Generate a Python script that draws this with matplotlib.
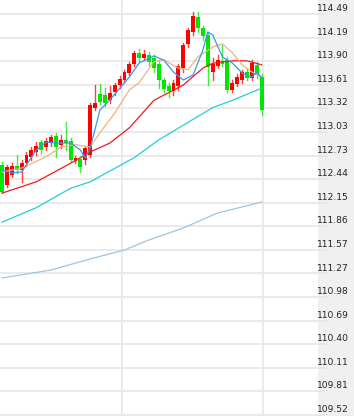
import numpy as np
import matplotlib
matplotlib.use("Agg")
import matplotlib.pyplot as plt
from matplotlib.patches import Rectangle

# candles (open, high, low, close), one per bar
opens = [112.619, 112.371, 112.495, 112.606, 112.557, 112.643, 112.718, 112.780, 112.904, 112.842,
         112.891, 112.978, 112.866, 112.928, 112.916, 112.668, 112.693, 112.680, 112.742, 113.325,
         113.498, 113.486, 113.424, 113.523, 113.610, 113.672, 113.759, 113.870, 114.007, 113.945,
         113.982, 113.945, 113.870, 113.672, 113.598, 113.536, 113.598, 113.821, 114.118, 114.267,
         114.453, 114.316, 114.230, 113.771, 113.846, 113.907, 113.920, 113.548, 113.622, 113.672,
         113.771, 113.697, 113.858, 113.709]
highs = [112.656, 112.619, 112.643, 112.742, 112.680, 112.780, 112.842, 112.904, 112.928, 112.953,
         112.990, 113.015, 112.990, 113.151, 112.953, 112.730, 112.718, 112.854, 113.387, 113.610,
         113.622, 113.573, 113.598, 113.635, 113.722, 113.796, 113.895, 114.031, 114.056, 114.044,
         114.019, 113.982, 113.920, 113.697, 113.635, 113.672, 113.870, 114.131, 114.316, 114.515,
         114.515, 114.341, 114.267, 113.945, 113.982, 114.106, 113.957, 113.672, 113.746, 113.796,
         113.821, 113.920, 113.895, 113.746]
lows = [112.271, 112.346, 112.470, 112.519, 112.408, 112.606, 112.680, 112.742, 112.767, 112.804,
        112.854, 112.718, 112.829, 112.804, 112.656, 112.643, 112.532, 112.631, 112.718, 113.300,
        113.375, 113.350, 113.387, 113.486, 113.573, 113.647, 113.734, 113.846, 113.895, 113.920,
        113.858, 113.771, 113.573, 113.523, 113.461, 113.486, 113.548, 113.771, 114.081, 114.230,
        114.267, 114.168, 113.610, 113.672, 113.821, 113.846, 113.523, 113.523, 113.598, 113.635,
        113.672, 113.672, 113.697, 113.238]
closes = [112.284, 112.594, 112.606, 112.557, 112.643, 112.742, 112.804, 112.854, 112.804, 112.916,
          112.966, 112.842, 112.928, 112.891, 112.680, 112.705, 112.594, 112.829, 113.362, 113.387,
          113.399, 113.387, 113.511, 113.610, 113.684, 113.771, 113.870, 114.007, 113.945, 113.994,
          113.895, 113.821, 113.672, 113.560, 113.536, 113.635, 113.846, 114.106, 114.292, 114.465,
          114.316, 114.217, 113.833, 113.870, 113.920, 113.870, 113.548, 113.635, 113.709, 113.771,
          113.697, 113.883, 113.734, 113.300]

# moving averages (bar index, value)
ma_blue_x = [0, 2, 4, 7, 9, 11, 14, 16, 17, 18, 20, 22, 26, 28, 31, 33, 35, 37, 39, 41, 42, 43, 45, 47, 49, 51, 52, 53]
ma_blue = [112.557, 112.52, 112.532, 112.804, 112.903, 112.891, 112.891, 112.804, 112.705, 112.829,
           113.30, 113.424, 113.709, 113.883, 113.97, 113.92, 113.771, 113.672, 113.734, 114.044,
           114.267, 114.23, 113.957, 113.883, 113.759, 113.709, 113.771, 113.697]
ma_tan_x = [0, 4, 9, 12, 15, 18, 20, 23, 26, 28, 31, 33, 36, 38, 40, 43, 45, 47, 49, 51, 53]
ma_tan = [112.53, 112.58, 112.72, 112.84, 112.87, 112.84, 113.02, 113.26, 113.55, 113.64,
          113.90, 113.92, 113.82, 113.80, 113.96, 114.08, 114.12, 114.01, 113.86, 113.77, 113.71]
ma_red_x = [0, 7, 14, 18, 22, 26, 31, 37, 41, 43, 47, 50, 53]
ma_red = [112.27, 112.41, 112.64, 112.78, 112.89, 113.08, 113.42, 113.61, 113.82, 113.88, 113.91, 113.91, 113.86]
ma_cyan_x = [0, 7, 14, 18, 27, 32, 43, 47, 53]
ma_cyan = [111.91, 112.09, 112.33, 112.41, 112.71, 112.93, 113.33, 113.42, 113.57]
ma_lblue_x = [0, 10, 18, 25, 30, 37, 44, 49, 53]
ma_lblue = [111.218, 111.317, 111.454, 111.565, 111.69, 111.838, 112.024, 112.098, 112.16]

tick_labels = ["114.49", "114.19", "113.90", "113.61", "113.32", "113.03", "112.73", "112.44", "112.15",
               "111.86", "111.57", "111.27", "110.98", "110.69", "110.40", "110.11", "109.81", "109.52"]
ticks = np.linspace(114.49, 109.52, len(tick_labels))
vlines = [24.5, 53.3]

up_col = '#ff0000'
down_col = '#00e600'
grid_col = '#e8e8e8'

fig = plt.figure(figsize=(3.54, 4.16), dpi=100)
fig.patch.set_facecolor('white')
# grey strip behind the price labels
fig.add_artist(Rectangle((318 / 354, 0), 1 - 318 / 354, 1, transform=fig.transFigure,
                         facecolor='#f0f0f0', edgecolor='none', zorder=-1))

ax = fig.add_axes([0, 0, 328 / 354, 1])
ax.patch.set_alpha(0)

for t in ticks:
    ax.axhline(t, color=grid_col, lw=1.3, zorder=0)
for v in vlines:
    ax.axvline(v, color=grid_col, lw=1.3, zorder=0)

# candlesticks
for i in range(len(opens)):
    o, h, l, c = opens[i], highs[i], lows[i], closes[i]
    col = up_col if c >= o else down_col
    ax.plot([i, i], [l, h], color=col, lw=1.0, alpha=0.75, zorder=2)
    ax.add_patch(Rectangle((i - 0.4, min(o, c)), 0.8, max(abs(c - o), 0.01),
                           facecolor=col, edgecolor='none', zorder=3))

ax.plot(ma_lblue_x, ma_lblue, color='#9cc6e2', lw=0.9, zorder=4)
ax.plot(ma_cyan_x, ma_cyan, color='#22cfd6', lw=0.9, zorder=4)
ax.plot(ma_red_x, ma_red, color='#ee1c1c', lw=0.9, zorder=4)
ax.plot(ma_tan_x, ma_tan, color='#f0b283', lw=0.9, zorder=4)
ax.plot(ma_blue_x, ma_blue, color='#3a96f0', lw=0.9, zorder=5)

ax.set_xlim(-2 / 4.9, (328 - 2) / 4.9)
ax.set_ylim(109.5076, 114.6635)
ax.set_xticks([])
ax.set_yticks([])
for s in ax.spines.values():
    s.set_visible(False)

# price labels sit just above their grid line, in the grey strip
for t, lab in zip(ticks, tick_labels):
    ax.text((319 - 2) / 4.9 - 2 / 4.9, t + 0.012, lab, fontsize=6.6, color='#222222',
            ha='left', va='bottom', clip_on=False)

fig.savefig('out.png', dpi=100)
